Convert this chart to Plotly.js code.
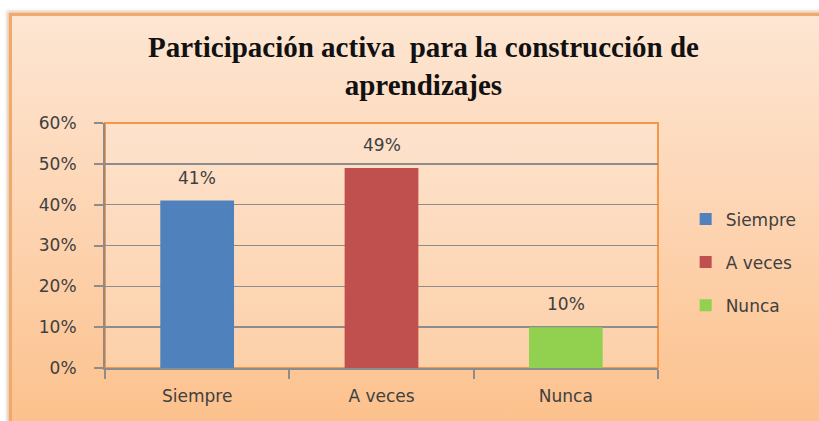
<!DOCTYPE html>
<html>
<head>
<meta charset="utf-8">
<script src="https://cdn.plot.ly/plotly-3.0.1.min.js"></script>
<style>
html,body{margin:0;padding:0;background:#ffffff;width:819px;height:421px;overflow:hidden;}
#frame{position:absolute;left:9px;top:13px;width:830px;height:430px;
  background:linear-gradient(to bottom,#fde6d3 0%,#fdd3b0 50%,#fcbf88 100%);
  border-left:3px solid #f3a96a;border-top:3px solid #f3a96a;
  box-shadow:-2px -2px 3px rgba(190,150,100,0.5);}
#chart{position:absolute;left:0;top:0;width:819px;height:421px;}
</style>
</head>
<body>
<div id="frame"></div>
<div id="chart"></div>
<script>
const categories = ['Siempre', 'A veces', 'Nunca'];
const values = [0.41, 0.49, 0.10];
const colors = ['#4f81bd', '#c0504d', '#92d050'];
const yTicks = [0, 0.1, 0.2, 0.3, 0.4, 0.5, 0.6];
const titleText = 'Participación activa  para la construcción de<br>aprendizajes';

const labelFont = {family: 'DejaVu Sans, sans-serif', size: 17, color: '#404040'};

const traces = categories.map((c, i) => ({
  type: 'bar',
  name: c,
  x: [c],
  y: [values[i]],
  width: 0.4,
  marker: {color: colors[i]},
  legendgroup: 'g' + i,
  hoverinfo: 'none'
}));

const annotations = categories.map((c, i) => ({
  x: c, y: values[i], xref: 'x', yref: 'y',
  text: Math.round(values[i] * 100) + '%',
  showarrow: false, yanchor: 'middle', yshift: 23,
  font: labelFont
}));

const layout = {
  width: 819, height: 421,
  margin: {l: 105, r: 161, t: 123, b: 53, pad: 0},
  paper_bgcolor: 'rgba(0,0,0,0)',
  plot_bgcolor: 'rgba(255,255,255,0.18)',
  barmode: 'overlay',
  showlegend: true,
  title: {
    text: titleText,
    font: {family: 'Liberation Serif, Times New Roman, serif', size: 29, color: '#111111', weight: 'bold'},
    xref: 'container', x: 0.517, xanchor: 'center',
    yref: 'container', y: 0.865, yanchor: 'top'
  },
  xaxis: {
    type: 'category',
    categoryorder: 'array', categoryarray: categories,
    range: [-0.5, 2.5],
    showline: true, linecolor: '#8c8c8c', linewidth: 2,
    ticks: 'outside', tickson: 'boundaries', ticklen: 9, tickcolor: '#8c8c8c', tickwidth: 2,
    ticklabelstandoff: 12,
    tickfont: labelFont,
    showgrid: false, zeroline: false, fixedrange: true
  },
  yaxis: {
    range: [0, 0.6],
    tickvals: yTicks,
    tickformat: '.0%',
    showline: true, linecolor: '#8c8c8c', linewidth: 2,
    ticks: 'outside', ticklen: 9, tickcolor: '#8c8c8c', tickwidth: 2,
    ticklabelstandoff: 14,
    tickfont: labelFont,
    showgrid: true, gridcolor: '#8c8c8c', gridwidth: 1.5,
    zeroline: false, fixedrange: true
  },
  legend: {
    x: 1.05, xanchor: 'left',
    y: 0.68, yanchor: 'top',
    traceorder: 'grouped', tracegroupgap: 18,
    font: labelFont,
    bgcolor: 'rgba(0,0,0,0)'
  },
  annotations: annotations,
  shapes: [{
    type: 'rect', xref: 'paper', yref: 'paper', x0: 0, x1: 1, y0: 0, y1: 1,
    line: {color: '#f79646', width: 2}, layer: 'below'
  }]
};

Plotly.newPlot('chart', traces, layout, {displayModeBar: false, staticPlot: true});
</script>
</body>
</html>
